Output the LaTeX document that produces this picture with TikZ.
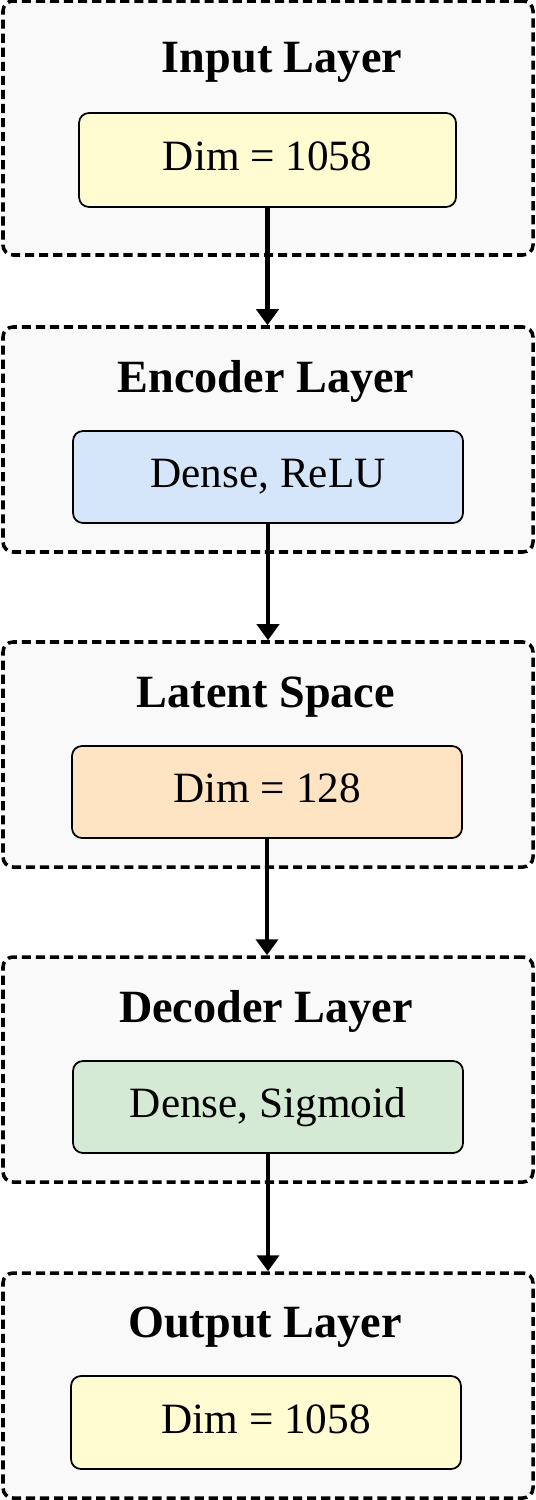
\documentclass[tikz,border=0pt]{standalone}
\usepackage{fontspec}
\setmainfont{Liberation Serif}
\usepackage{tikz}
\usetikzlibrary{
  arrows.meta,%
  positioning
}
\definecolor{boxgray}{HTML}{F9F9F9}
\definecolor{dimyellow}{HTML}{FFFCD2}
\definecolor{encblue}{HTML}{D5E6FB}
\definecolor{latorange}{HTML}{FFE4C4}
\definecolor{decgreen}{HTML}{D4EAD4}
\tikzset{
  layerbox/.style={draw=black, fill=boxgray, line width=2pt,
    dash pattern=on 5.2pt off 2.8pt, rounded corners=0.2cm,
    minimum width=10.6cm, inner sep=0pt},
  layertitle/.style={anchor=base, font=\fontsize{26.3}{30}\selectfont\bfseries},
  unitbox/.style={draw=black, line width=1pt, rounded corners=0.2cm,
    minimum width=7.8cm, minimum height=1.84cm, inner sep=0pt,
    text height=12pt, text depth=0pt,
    font=\fontsize{24.6}{28}\selectfont},
  flowarrow/.style={line width=2.7pt, -{Triangle[width=0.44cm,length=0.32cm]}}
}
\begin{document}
\begin{tikzpicture}
  \useasboundingbox (0,0) rectangle (10.7,-30);
  % layer frames
  \node[layerbox, minimum height=5.08cm] (inputframe) at (5.36,-2.56) {};
  \node[layerbox, minimum height=4.5cm] (encframe) at (5.36,-8.79) {};
  \node[layerbox, minimum height=4.5cm] (latframe) at (5.36,-15.09) {};
  \node[layerbox, minimum height=4.5cm] (decframe) at (5.36,-21.39) {};
  \node[layerbox, minimum height=4.5cm] (outframe) at (5.36,-27.71) {};
  % titles
  \node[layertitle] (inputtitle) at (5.64,-1.46) {Input Layer};
  \node[layertitle] (enctitle) at (5.32,-7.84) {Encoder Layer};
  \node[layertitle] (lattitle) at (5.32,-14.14) {Latent Space};
  \node[layertitle] (dectitle) at (5.32,-20.44) {Decoder Layer};
  \node[layertitle] (outtitle) at (5.30,-26.74) {Output Layer};
  % units
  \node[unitbox, fill=dimyellow, minimum width=7.54cm, minimum height=1.88cm] (inputdim) at (5.35,-3.20) {Dim = 1058};
  \node[unitbox, fill=encblue] (encunit) at (5.36,-9.54) {Dense, ReLU};
  \node[unitbox, fill=latorange] (latdim) at (5.34,-15.84) {Dim = 128};
  \node[unitbox, fill=decgreen] (decunit) at (5.36,-22.14) {Dense, Sigmoid};
  \node[unitbox, fill=dimyellow, minimum height=1.86cm] (outdim) at (5.32,-28.45) {Dim = 1058};
  % flow
  \draw[flowarrow] (inputdim.south) -- (inputdim.south |- encframe.north);
  \draw[flowarrow] (encunit.south) -- (encunit.south |- latframe.north);
  \draw[flowarrow] (latdim.south) -- (latdim.south |- decframe.north);
  \draw[flowarrow] (decunit.south) -- (decunit.south |- outframe.north);
\end{tikzpicture}
\end{document}
